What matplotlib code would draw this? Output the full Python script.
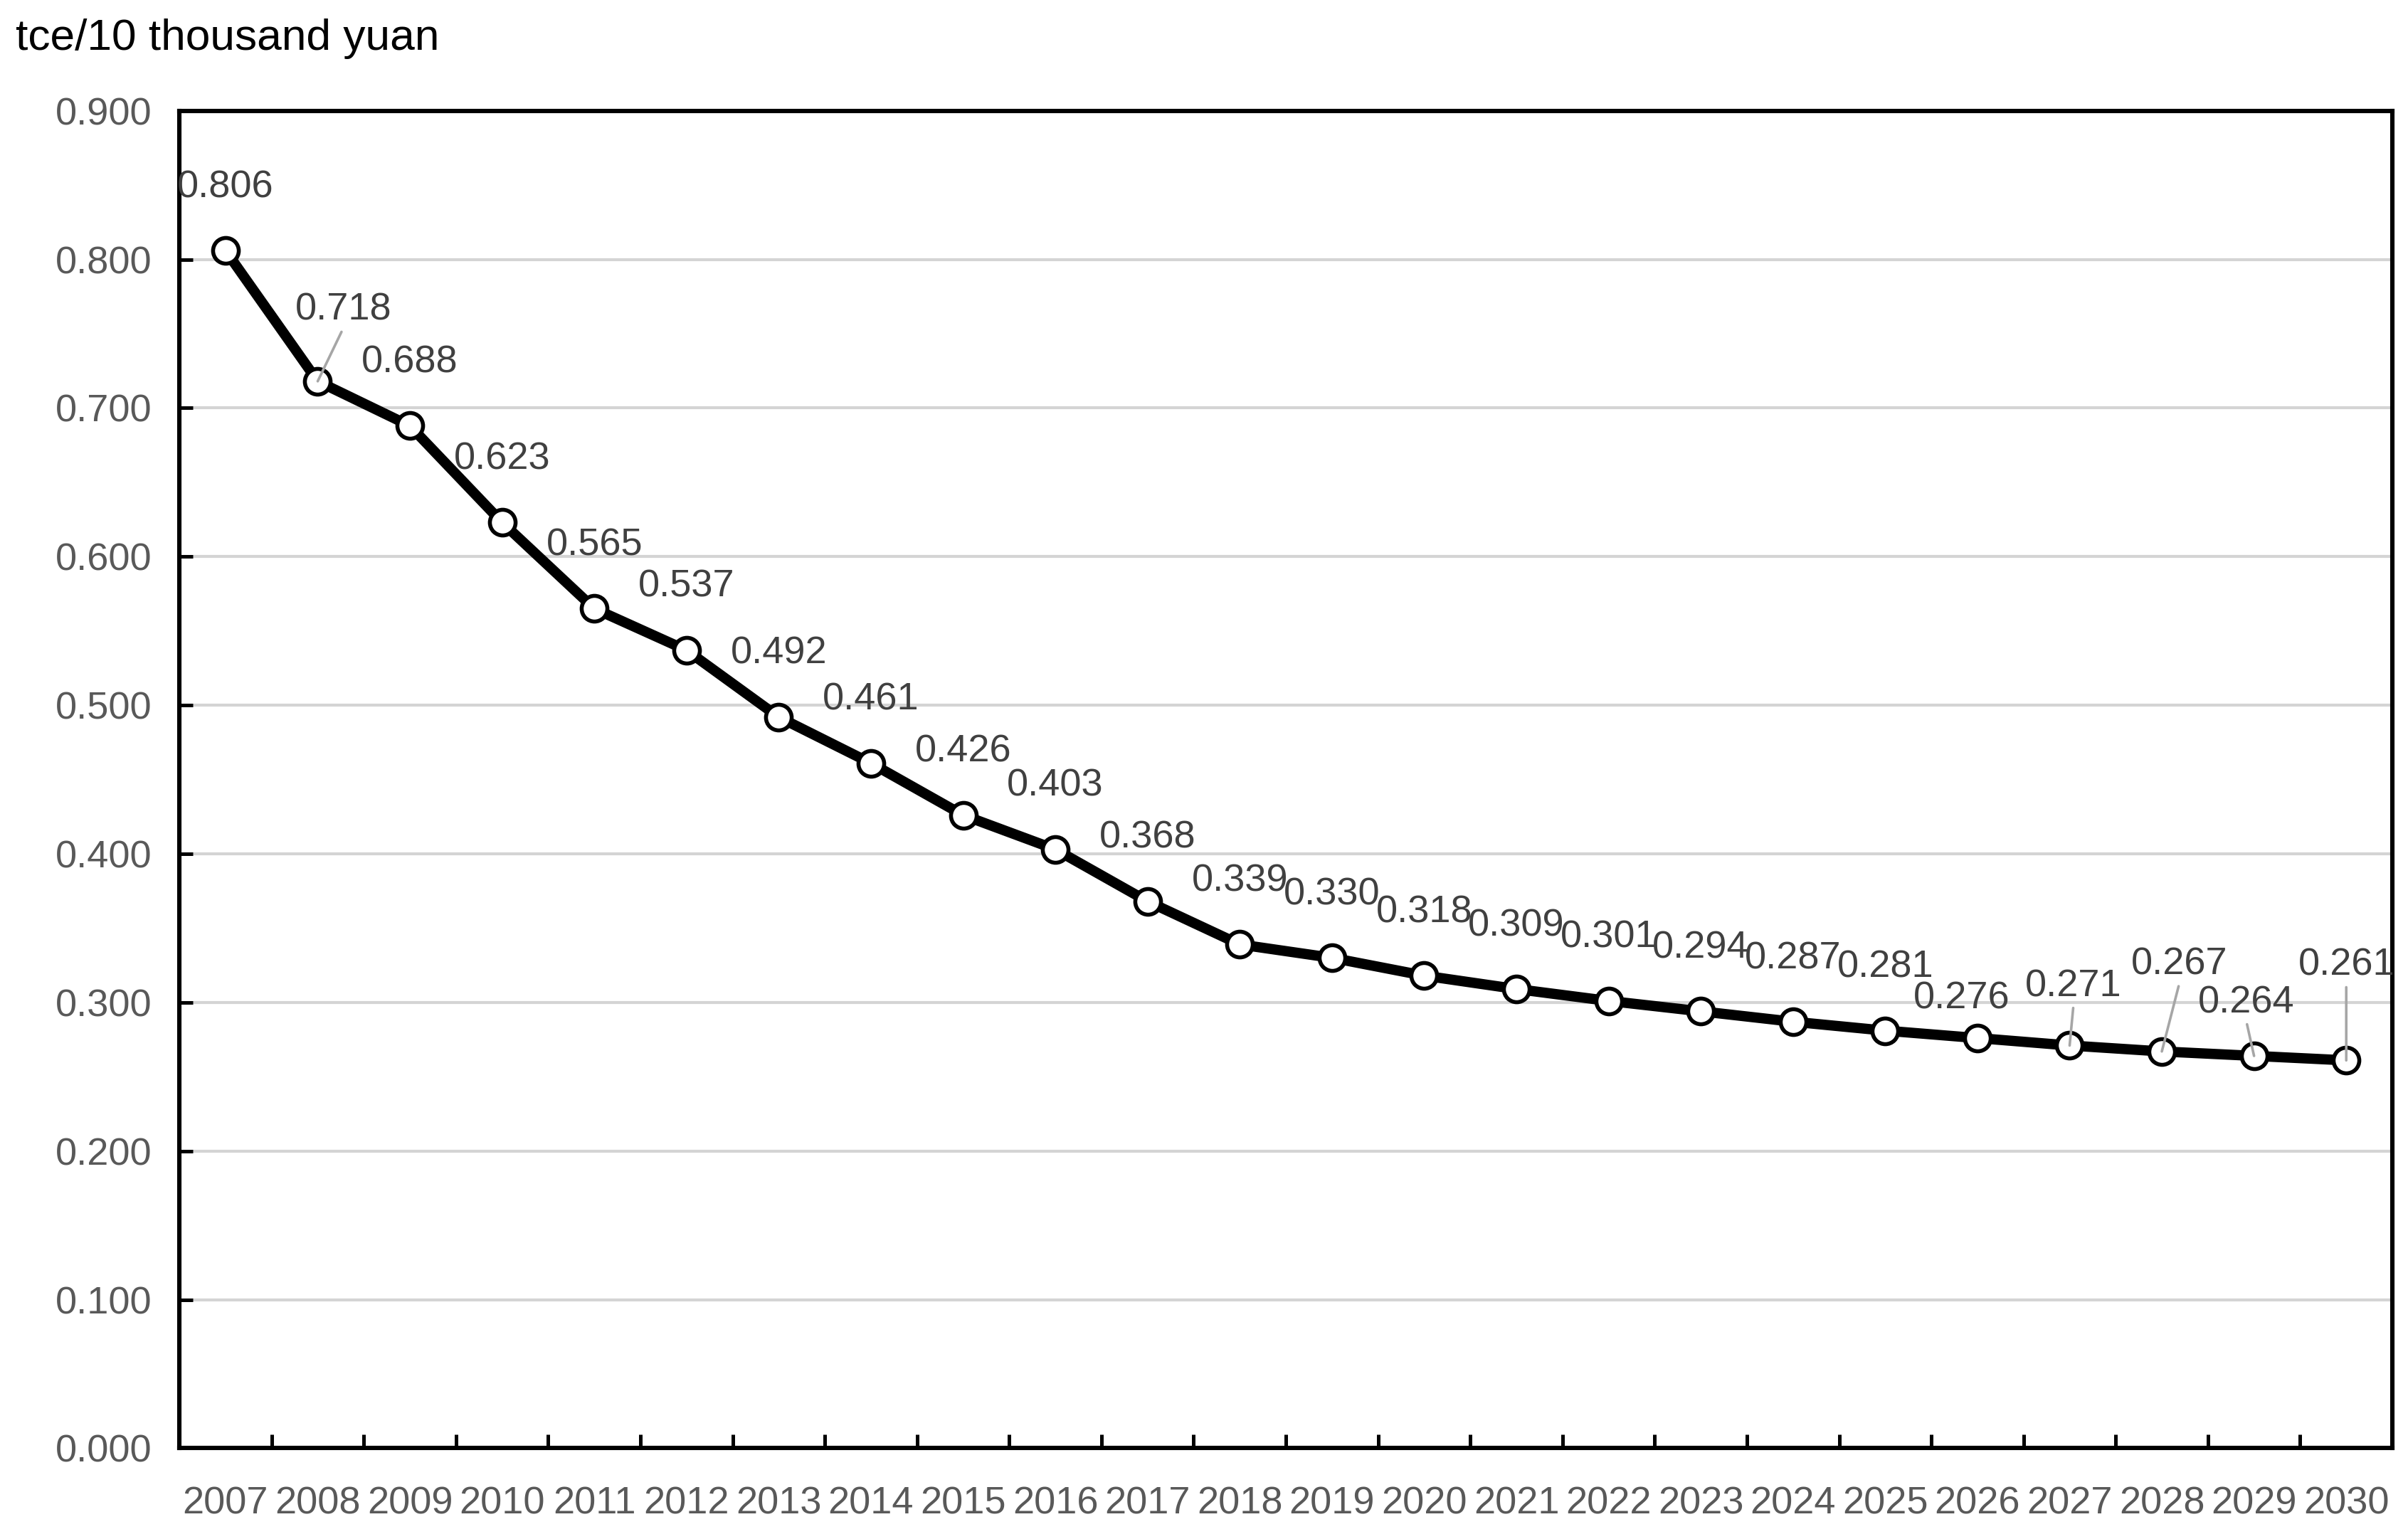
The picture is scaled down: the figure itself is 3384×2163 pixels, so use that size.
import numpy as np
import matplotlib.pyplot as plt
from matplotlib.ticker import FormatStrFormatter

# data
years = list(range(2007, 2031))
intensity = [0.806, 0.718, 0.688, 0.623, 0.565, 0.537, 0.492, 0.461, 0.426,
             0.403, 0.368, 0.339, 0.330, 0.318, 0.309, 0.301, 0.294, 0.287,
             0.281, 0.276, 0.271, 0.267, 0.264, 0.261]
unit_label = 'tce/10 thousand yuan'

# label placement (offsets in points), labels that were dragged get a leader line
default_off = (0, 32)
moved = {2008: (13, 36), 2026: (-8, 20), 2027: (2, 30),
         2028: (9, 44), 2029: (-4, 27), 2030: (0, 48)}
leaders = [2008, 2027, 2028, 2029, 2030]

plt.rcParams['font.family'] = ['Liberation Sans', 'DejaVu Sans']

fig = plt.figure(figsize=(16.92, 10.815), dpi=200)
ax = fig.add_axes([0.0745, 0.059, 0.919, 0.869])

ax.plot(years, intensity, color='black', lw=5.2, marker='o', ms=13,
        mfc='white', mec='black', mew=2.0, zorder=3)

for yr, val in zip(years, intensity):
    off = moved.get(yr, default_off)
    kw = {}
    if yr in leaders:
        kw['arrowprops'] = dict(arrowstyle='-', color='#a6a6a6', lw=1.3,
                                shrinkA=0, shrinkB=0, relpos=(0.5, 0))
    ax.annotate(f'{val:.3f}', (yr, val), xytext=off, textcoords='offset points',
                ha='center', va='center', fontsize=19.5, color='#404040',
                zorder=4, **kw)

ax.set_xlim(2006.5, 2030.5)
ax.set_ylim(0, 0.9)
ax.set_yticks(np.arange(0, 0.91, 0.1))
ax.yaxis.set_major_formatter(FormatStrFormatter('%.3f'))
ax.set_xticks(years)
ax.set_xticks(np.arange(2007.5, 2030, 1), minor=True)

ax.tick_params(axis='x', which='major', length=0, pad=19, labelsize=19.5,
               labelcolor='#595959')
ax.tick_params(axis='x', which='minor', direction='in', length=7, width=1.8)
ax.tick_params(axis='y', direction='in', length=7, width=1.8, pad=14,
               labelsize=19.5, labelcolor='#595959')

ax.grid(axis='y', color='#d4d4d4', lw=1.5, zorder=0)
ax.set_axisbelow(True)
for sp in ax.spines.values():
    sp.set_linewidth(2.2)

fig.text(0.0064, 0.975, unit_label, fontsize=22.4, color='black',
         ha='left', va='center')

fig.savefig('out.png', dpi=200)
